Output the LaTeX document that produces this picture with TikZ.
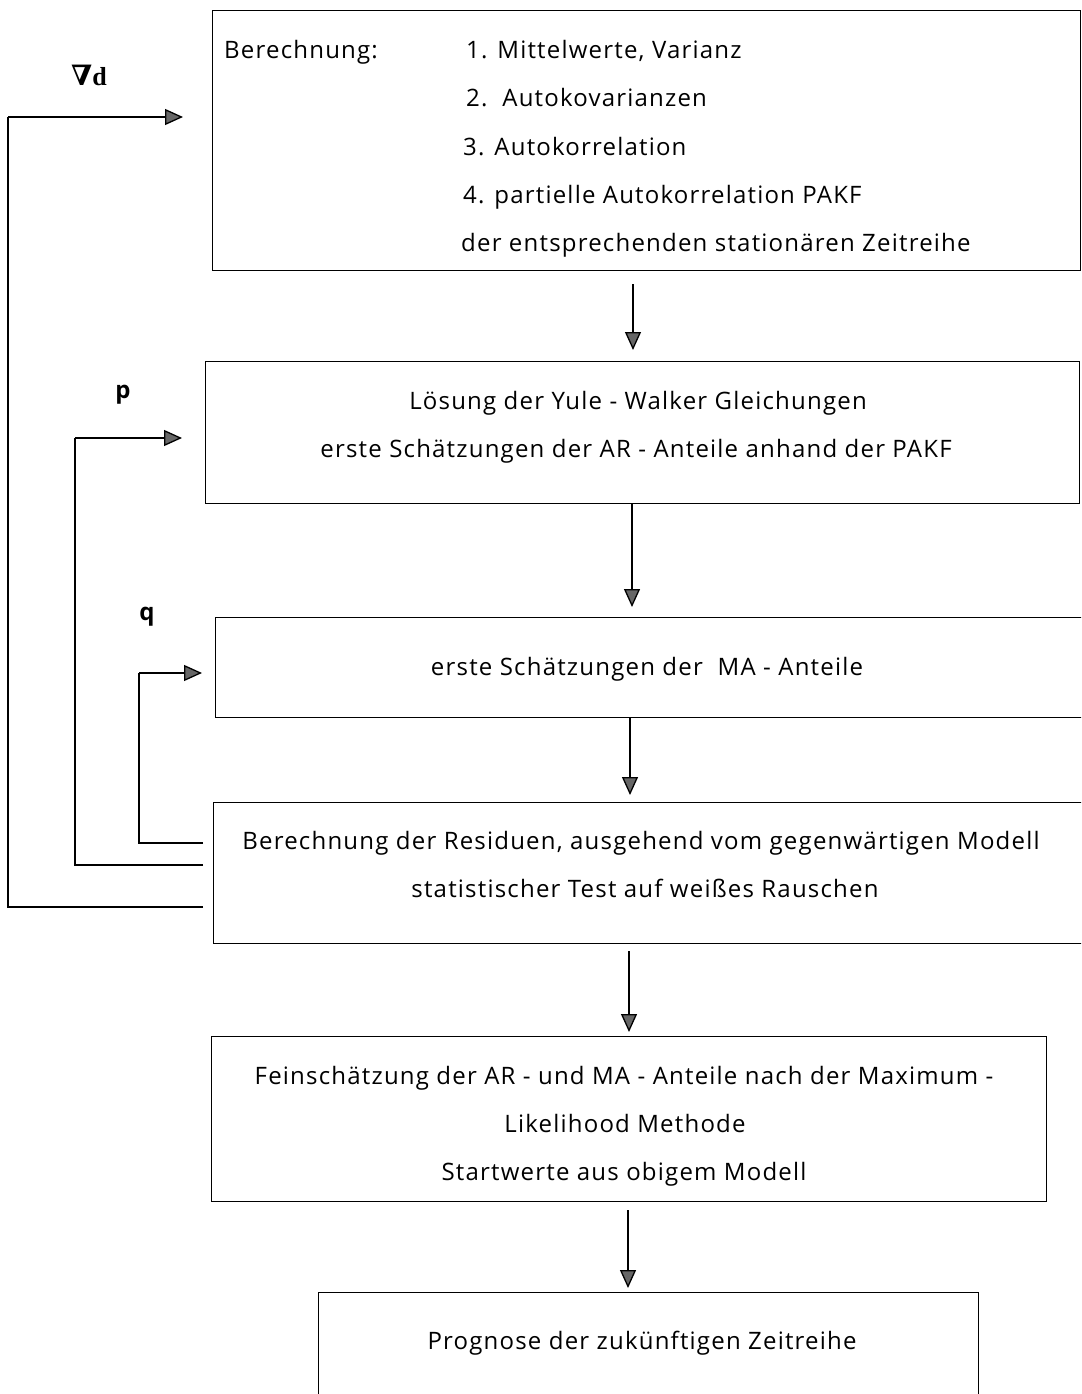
\documentclass[tikz,border=0pt]{standalone}
\usepackage{fontspec}
\setmainfont[LetterSpace=5]{Open Sans}
\newfontfamily\labelserif{Liberation Serif}
\newfontfamily\symfont{DejaVu Serif}
\usetikzlibrary{arrows.meta}
\tikzset{
  box/.style={draw, line width=1.4pt, rectangle, anchor=north west, inner sep=0pt},
  txt/.style={font=\fontsize{24}{28}\selectfont, inner sep=0pt, text height=17pt, text depth=0pt},
  flow/.style={line width=1.3pt, -{Triangle[length=18pt,width=16pt,fill=gray!80!black]}},
  loop/.style={line width=1.3pt},
  var/.style={font=\fontsize{24}{28}\selectfont\bfseries, inner sep=0pt}
}
\begin{document}
\begin{tikzpicture}[x=1pt,y=-1pt]
\clip (0,0) rectangle (1081,1394);
\fill[white] (0,0) rectangle (1081,1394);

% process boxes
\node[box, minimum width=868pt, minimum height=260pt] (b1) at (212,10) {};
\node[box, minimum width=874pt, minimum height=142pt] (b2) at (205,361) {};
\node[box, minimum width=880pt, minimum height=100pt] (b3) at (215,617) {};
\node[box, minimum width=880pt, minimum height=141pt] (b4) at (213,802) {};
\node[box, minimum width=835pt, minimum height=165pt] (b5) at (211,1036) {};
\node[box, minimum width=660pt, minimum height=120pt] (b6) at (318,1292) {};

% box 1 texts
\node[txt, anchor=west] (t1a) at (224,50) {Berechnung:};
\node[txt, anchor=west] (t1b) at (466,50) {1. Mittelwerte, Varianz};
\node[txt, anchor=west] (t1c) at (466,98) {2.\ \ Autokovarianzen};
\node[txt, anchor=west] (t1d) at (463,147) {3. Autokorrelation};
\node[txt, anchor=west] (t1e) at (463,195) {4. partielle Autokorrelation PAKF};
\node[txt, anchor=west] (t1f) at (461,243) {der entsprechenden stationären Zeitreihe};

% box 2 texts
\node[txt] (t2a) at (638,401) {Lösung der Yule - Walker Gleichungen};
\node[txt] (t2b) at (636,449) {erste Schätzungen der AR - Anteile anhand der PAKF};

% box 3 text
\node[txt] (t3a) at (647,667) {erste Schätzungen der\ \ MA - Anteile};

% box 4 texts
\node[txt] (t4a) at (641,841) {Berechnung der Residuen, ausgehend vom gegenwärtigen Modell};
\node[txt] (t4b) at (645,889) {statistischer Test auf weißes Rauschen};

% box 5 texts
\node[txt] (t5a) at (624,1076) {Feinschätzung der AR - und MA - Anteile nach der Maximum -};
\node[txt] (t5b) at (625,1124) {Likelihood Methode};
\node[txt] (t5c) at (624,1172) {Startwerte aus obigem Modell};

% box 6 text
\node[txt] (t6a) at (642,1341) {Prognose der zukünftigen Zeitreihe};

% feedback labels
\node[inner sep=0pt, font=\bfseries] (ld) at (89,75) {{\fontsize{28}{30}\selectfont\symfont ∇}{\fontsize{26}{30}\selectfont\labelserif d}};
\node[var] (lp) at (123,395) {p};
\node[var] (lq) at (147,617) {q};

% column positions of the downward arrows
\coordinate (c1) at (633,0);
\coordinate (c2) at (632,0);
\coordinate (c3) at (630,0);
\coordinate (c4) at (629,0);
\coordinate (c5) at (628,0);

\draw[flow] ([yshift=-13pt]b1.south -| c1) -- ([yshift=11pt]b2.north -| c1);
\draw[flow] (b2.south -| c2) -- ([yshift=10pt]b3.north -| c2);
\draw[flow] (b3.south -| c3) -- ([yshift=7pt]b4.north -| c3);
\draw[flow] ([yshift=-7pt]b4.south -| c4) -- ([yshift=4pt]b5.north -| c4);
\draw[flow] ([yshift=-8pt]b5.south -| c5) -- ([yshift=4pt]b6.north -| c5);

% feedback loops from the residual test
\coordinate (rq) at (0,843);
\coordinate (rp) at (0,865);
\coordinate (rd) at (0,907);
\coordinate (kq) at (139,673);
\coordinate (kp) at (75,438);
\coordinate (kd) at (8,117);

\draw[loop] ([xshift=-10pt]b4.west |- rq) -| (kq);
\draw[flow] (kq) -- ([xshift=-13pt]b3.west |- kq);
\draw[loop] ([xshift=-10pt]b4.west |- rp) -| (kp);
\draw[flow] (kp) -- ([xshift=-23pt]b2.west |- kp);
\draw[loop] ([xshift=-10pt]b4.west |- rd) -| (kd);
\draw[flow] (kd) -- ([xshift=-29pt]b1.west |- kd);
\end{tikzpicture}
\end{document}
